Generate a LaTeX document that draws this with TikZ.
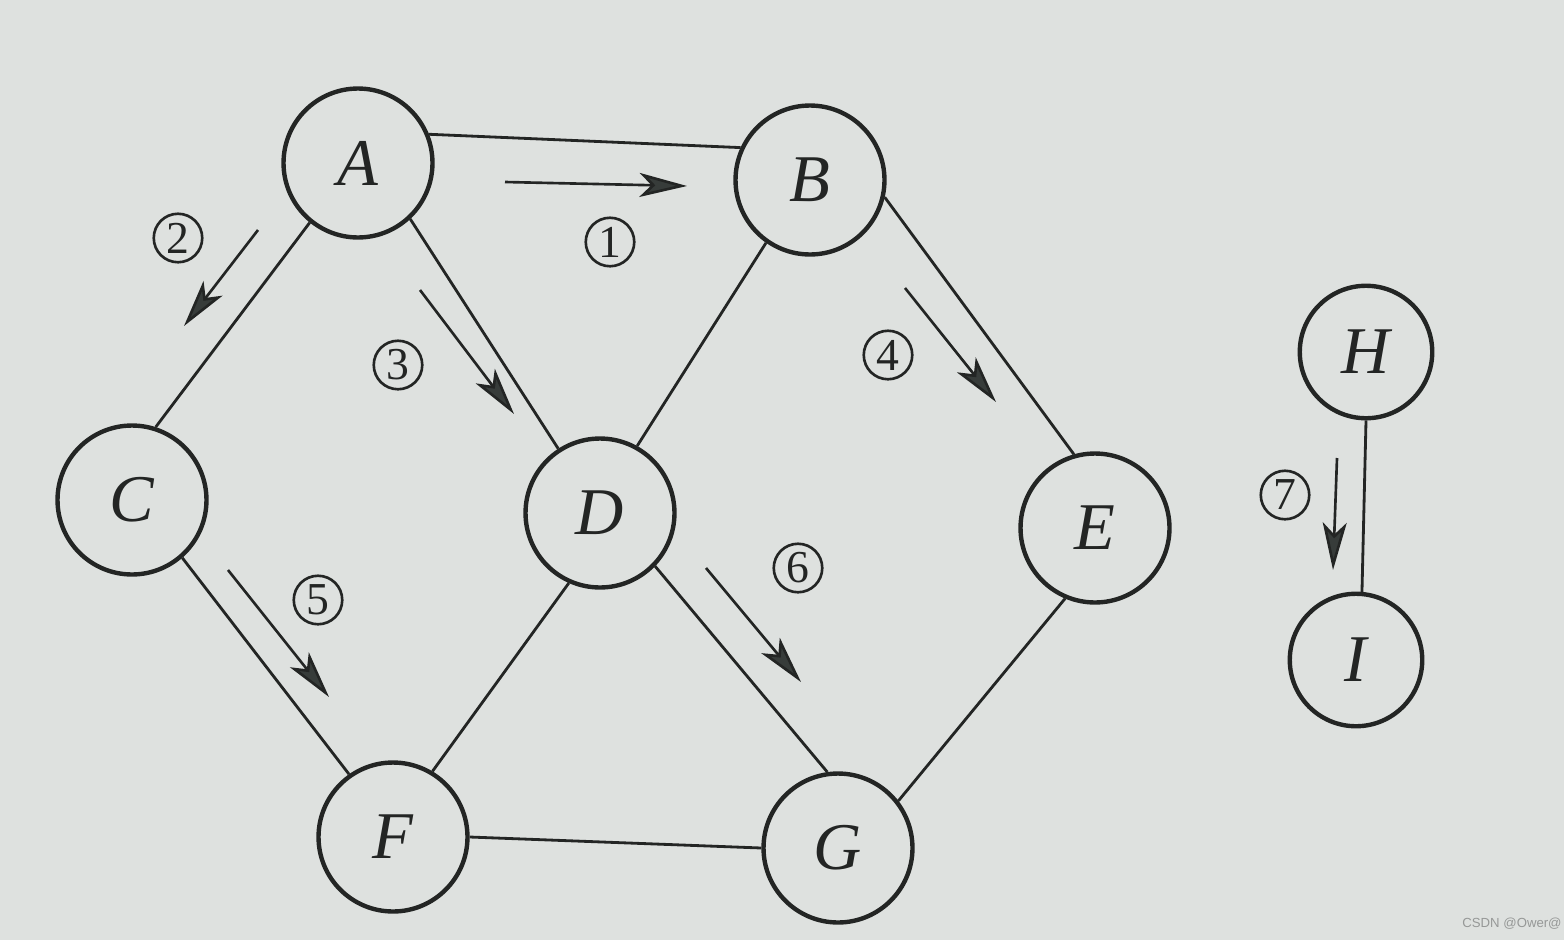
\documentclass[tikz,border=0pt]{standalone}
\usepackage{fontspec}
\setmainfont{Liberation Serif}
\newfontfamily\wmfont{Liberation Sans}
\usetikzlibrary{arrows.meta}
\definecolor{bg}{RGB}{222,225,223}
\definecolor{ink}{RGB}{35,37,36}
\definecolor{head}{RGB}{55,60,58}
\definecolor{wm}{RGB}{150,152,151}
\tikzset{
  vert/.style={circle, draw=ink, line width=2.5pt, minimum size=2.98cm, inner sep=0pt,
    font=\fontsize{38}{38}\selectfont\itshape, text=ink},
  svert/.style={vert, minimum size=2.65cm},
  edge/.style={draw=ink, line width=1.6pt},
  order/.style={draw=ink, line width=1.5pt, -{Stealth[length=0.95cm, width=0.48cm, inset=0.24cm, fill=head]}},
  num/.style={circle, draw=ink, line width=1.5pt, minimum size=0.97cm, inner sep=0pt,
    font=\fontsize{26}{26}\selectfont, text=ink}
}
\begin{document}
\begin{tikzpicture}[x=0.02cm, y=-0.02cm]
\fill[bg] (0,0) rectangle (1564,940);
\useasboundingbox (0,0) rectangle (1564,940);

\node[vert] (A) at (358,163) {A};
\node[vert] (B) at (810,180) {B};
\node[vert] (C) at (132,500) {C};
\node[vert] (D) at (600,513) {D};
\node[vert] (E) at (1095,528) {E};
\node[vert] (F) at (393,837) {F};
\node[vert] (G) at (838,848) {G};
\node[svert] (H) at (1366,352) {H};
\node[svert] (I) at (1356,660) {I};

\draw[edge] (A.22) -- (B.155);
\draw[edge] (A.231) -- (C.72);
\draw[edge] (A.313) -- (D.123);
\draw[edge] (B.235) -- (D.61);
\draw[edge] (B.347) -- (E.106);
\draw[edge] (C.311) -- (F.125);
\draw[edge] (D.246) -- (F.59);
\draw[edge] (D.316) -- (G.98);
\draw[edge] (E.247) -- (G.38);
\draw[edge] (F.0) -- (G.180);
\draw[edge] (H.270) -- (I.85);

\coordinate (s1) at (505,182); \coordinate (t1) at (687,186);
\coordinate (s2) at (258,230); \coordinate (t2) at (184,326);
\coordinate (s3) at (420,290); \coordinate (t3) at (514,414);
\coordinate (s4) at (905,288); \coordinate (t4) at (996,402);
\coordinate (s5) at (228,570); \coordinate (t5) at (329,697);
\coordinate (s6) at (706,568); \coordinate (t6) at (801,682);
\coordinate (s7) at (1337,458); \coordinate (t7) at (1333,570);
\draw[order] (s1) -- (t1);
\draw[order] (s2) -- (t2);
\draw[order] (s3) -- (t3);
\draw[order] (s4) -- (t4);
\draw[order] (s5) -- (t5);
\draw[order] (s6) -- (t6);
\draw[order] (s7) -- (t7);

\node[num] (n1) at (610,242) {1};
\node[num] (n2) at (178,238) {2};
\node[num] (n3) at (398,365) {3};
\node[num] (n4) at (888,355) {4};
\node[num] (n5) at (318,600) {5};
\node[num] (n6) at (798,568) {6};
\node[num] (n7) at (1285,495) {7};

\node[text=wm, font=\wmfont\fontsize{7.5}{8}\selectfont] (wmk) at (1512,924) {CSDN @Ower@};
\end{tikzpicture}
\end{document}
